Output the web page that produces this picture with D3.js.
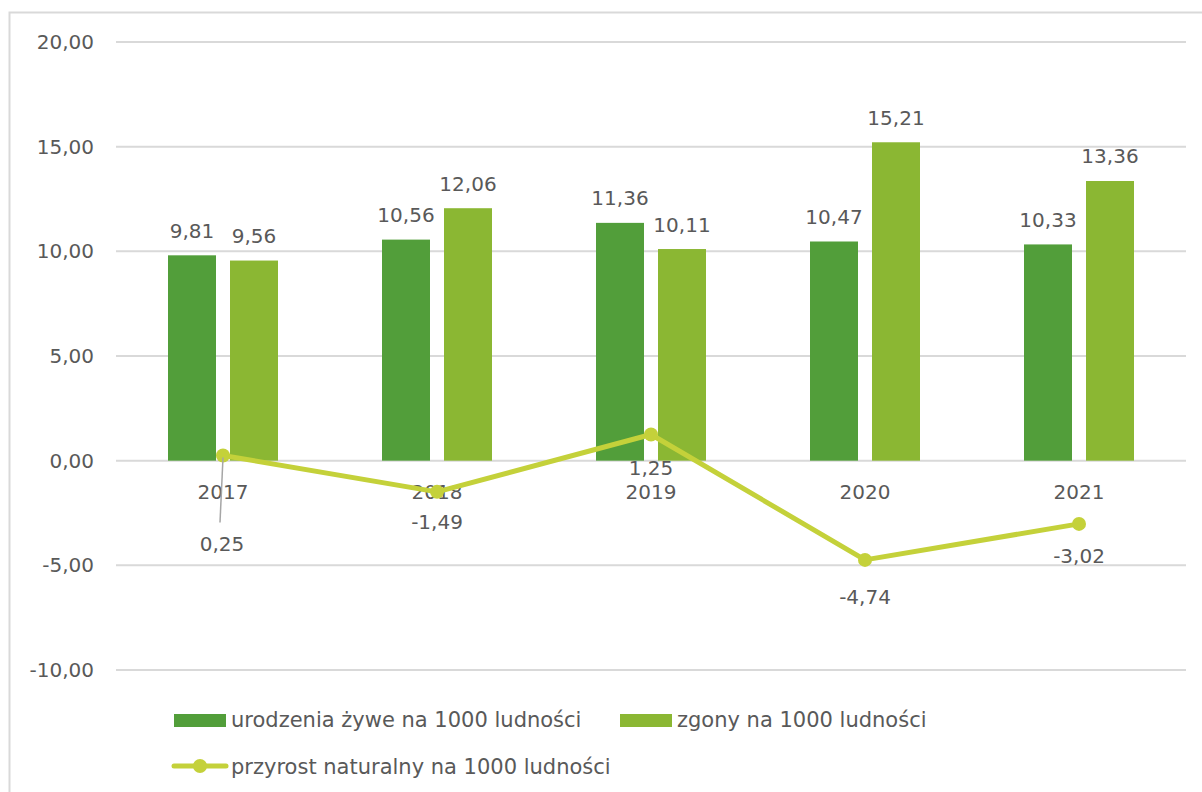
<!DOCTYPE html>
<html><head><meta charset="utf-8">
<script src="https://cdn.jsdelivr.net/npm/d3@7"></script>
<style>body{margin:0;background:#fff}svg text{font-family:"DejaVu Sans",sans-serif;fill:#595959}</style>
</head><body><svg id="c" width="1202" height="792"></svg>
<script>
const years = ["2017","2018","2019","2020","2021"];
const births = [9.81,10.56,11.36,10.47,10.33];
const deaths = [9.56,12.06,10.11,15.21,13.36];
const growth = [0.25,-1.49,1.25,-4.74,-3.02];
const yTicks = [-10,-5,0,5,10,15,20];
const seriesNames = ["urodzenia żywe na 1000 ludności","zgony na 1000 ludności","przyrost naturalny na 1000 ludności"];
const colors = {births:"#529E3A", deaths:"#8BB733", growth:"#C4D13A"};

const svg = d3.select("#c");
const fmt = v => d3.format(".2f")(v).replace(".", ",").replace("\u2212","-");
svg.append("rect").attr("x",9.5).attr("y",12.5).attr("width",1200).attr("height",800).attr("fill","none").attr("stroke","#d9d9d9").attr("stroke-width",2);

const x = d3.scaleBand().domain(years).range([116,1186]);
const y = d3.scaleLinear().domain([-10,20]).range([670,42]);
const fs = 20;

svg.append("g").selectAll("line").data(yTicks).join("line")
 .attr("x1",116).attr("x2",1186).attr("y1",d=>y(d)).attr("y2",d=>y(d))
 .attr("stroke","#d9d9d9").attr("stroke-width",2);
svg.append("g").selectAll("text").data(yTicks).join("text")
 .attr("x",94).attr("y",d=>y(d)).attr("dy","0.35em").attr("text-anchor","end")
 .attr("font-size",fs).text(fmt);

const bw = 48, gap = 14;
const bx = (yr,i) => x(yr)+x.bandwidth()/2 + (i===0 ? -gap/2-bw : gap/2);
[[births,colors.births],[deaths,colors.deaths]].forEach(([arr,col],i)=>{
 svg.append("g").selectAll("rect").data(years).join("rect")
  .attr("x",d=>bx(d,i)).attr("width",bw)
  .attr("y",(d,j)=>y(arr[j])).attr("height",(d,j)=>y(0)-y(arr[j]))
  .attr("fill",col);
 svg.append("g").selectAll("text").data(years).join("text")
  .attr("x",d=>bx(d,i)+bw/2).attr("y",(d,j)=>y(arr[j])-17.5)
  .attr("text-anchor","middle").attr("font-size",fs).text((d,j)=>fmt(arr[j]));
});

// category labels
svg.append("g").selectAll("text").data(years).join("text")
 .attr("x",d=>x(d)+x.bandwidth()/2).attr("y",y(0)+38).attr("text-anchor","middle")
 .attr("font-size",fs).text(d=>d);

// line
const cx = d=>x(d)+x.bandwidth()/2;
const line = d3.line().x((d,i)=>cx(years[i])).y(d=>y(d));
svg.append("path").datum(growth).attr("d",line).attr("fill","none")
 .attr("stroke",colors.growth).attr("stroke-width",5).attr("stroke-linejoin","round");
svg.append("g").selectAll("circle").data(growth).join("circle")
 .attr("cx",(d,i)=>cx(years[i])).attr("cy",d=>y(d)).attr("r",7).attr("fill",colors.growth);
// leader line for first label
svg.append("line").attr("x1",cx(years[0])).attr("y1",y(growth[0])+2).attr("x2",cx(years[0])-3).attr("y2",y(growth[0])+67)
 .attr("stroke","#a6a6a6").attr("stroke-width",1.5);
const lblOffsets = [89,30,33,37,32];
svg.append("g").selectAll("text").data(growth).join("text")
 .attr("x",(d,i)=>cx(years[i])-(i===0?1:0)).attr("y",(d,i)=>y(d)+lblOffsets[i]).attr("dy","0.35em")
 .attr("text-anchor","middle").attr("font-size",fs).text(fmt);

// legend
const lfs = 21;
const lg = svg.append("g");
lg.append("rect").attr("x",174).attr("y",714).attr("width",52).attr("height",13).attr("fill",colors.births);
lg.append("text").attr("x",231).attr("y",720).attr("dy","0.35em").attr("font-size",lfs).text(seriesNames[0]);
lg.append("rect").attr("x",620).attr("y",714).attr("width",52).attr("height",13).attr("fill",colors.deaths);
lg.append("text").attr("x",677).attr("y",720).attr("dy","0.35em").attr("font-size",lfs).text(seriesNames[1]);
lg.append("line").attr("x1",174).attr("x2",226).attr("y1",766).attr("y2",766).attr("stroke",colors.growth).attr("stroke-width",5).attr("stroke-linecap","round");
lg.append("circle").attr("cx",200).attr("cy",766).attr("r",7).attr("fill",colors.growth);
lg.append("text").attr("x",231).attr("y",767).attr("dy","0.35em").attr("font-size",lfs).text(seriesNames[2]);
</script></body></html>
